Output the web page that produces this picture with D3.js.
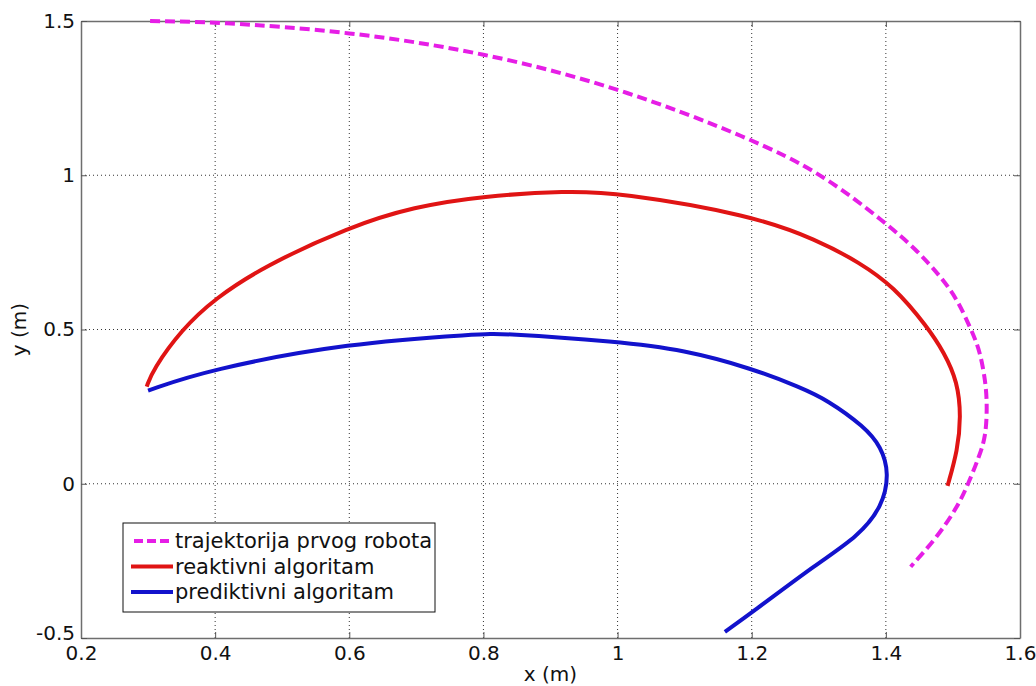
<!DOCTYPE html>
<html>
<head>
<meta charset="utf-8">
<script src="https://cdn.jsdelivr.net/npm/d3@7"></script>
<style>
  body { margin: 0; background: #fff; }
  text { font-family: "DejaVu Sans", Verdana, sans-serif; fill: #111; }
</style>
</head>
<body>
<div id="chart"></div>
<script>
// Chart size and plot box
var width = 1036, height = 686;
var box = {left: 81, top: 21, right: 1020, bottom: 638};

// Data (x, y in metres)
var robotPath = [
  [0.303, 1.500], [0.40, 1.497], [0.60, 1.466], [0.80, 1.398], [1.00, 1.286],
  [1.20, 1.118], [1.305, 1.005], [1.40, 0.845], [1.445, 0.760], [1.482, 0.671],
  [1.507, 0.596], [1.527, 0.500], [1.540, 0.434], [1.549, 0.327], [1.551, 0.250],
  [1.549, 0.153], [1.539, 0.088], [1.523, 0.000], [1.507, -0.074], [1.477, -0.172],
  [1.437, -0.269]
];
var reactivePath = [
  [0.298, 0.315], [0.307, 0.369], [0.350, 0.500], [0.40, 0.601], [0.472, 0.704],
  [0.60, 0.833], [0.696, 0.898], [0.80, 0.933], [0.925, 0.949], [1.00, 0.944],
  [1.20, 0.871], [1.298, 0.790], [1.36, 0.718], [1.412, 0.639], [1.462, 0.508],
  [1.487, 0.425], [1.507, 0.330], [1.512, 0.217], [1.507, 0.109], [1.492, -0.007]
];
var predictivePath = [
  [0.300, 0.302], [0.388, 0.369], [0.60, 0.457], [0.796, 0.485], [0.825, 0.488],
  [1.00, 0.461], [1.099, 0.434], [1.20, 0.374], [1.273, 0.312], [1.313, 0.271],
  [1.368, 0.185], [1.393, 0.120], [1.405, 0.035], [1.395, -0.074], [1.358, -0.172],
  [1.298, -0.258], [1.20, -0.418], [1.160, -0.480]
];

var seriesNames = ["trajektorija prvog robota", "reaktivni algoritam", "prediktivni algoritam"];
var seriesColors = ["#e61ee6", "#e01414", "#1212cc"];
var seriesData = [robotPath, reactivePath, predictivePath];

var xTicks = [0.2, 0.4, 0.6, 0.8, 1, 1.2, 1.4, 1.6];
var yTicks = [-0.5, 0, 0.5, 1, 1.5];

var svg = d3.select("#chart")
  .append("svg")
  .attr("width", width)
  .attr("height", height);

var x = d3.scaleLinear().domain([0.2, 1.6]).range([box.left, box.right]);
var y = d3.scaleLinear().domain([-0.5, 1.5]).range([box.bottom, box.top]);

// Grid (dotted)
svg.append("g").selectAll("line")
  .data(xTicks.slice(1, -1))
  .enter().append("line")
  .attr("x1", d => x(d)).attr("x2", d => x(d))
  .attr("y1", box.top).attr("y2", box.bottom)
  .attr("stroke", "#333").attr("stroke-width", 1)
  .attr("stroke-dasharray", "1,3");

svg.append("g").selectAll("line")
  .data(yTicks.slice(1, -1))
  .enter().append("line")
  .attr("y1", d => y(d)).attr("y2", d => y(d))
  .attr("x1", box.left).attr("x2", box.right)
  .attr("stroke", "#333").attr("stroke-width", 1)
  .attr("stroke-dasharray", "1,3");

// Axes, ticks inside on all four sides
var fmt = d => String(d);
svg.append("g")
  .attr("transform", "translate(0," + box.bottom + ")")
  .call(d3.axisBottom(x).tickValues(xTicks).tickFormat(fmt).tickSizeInner(-6).tickSizeOuter(0).tickPadding(8));
svg.append("g")
  .attr("transform", "translate(0," + box.top + ")")
  .call(d3.axisTop(x).tickValues(xTicks).tickFormat("").tickSizeInner(-6).tickSizeOuter(0));
var yAxis = svg.append("g")
  .attr("transform", "translate(" + box.left + ",0)")
  .call(d3.axisLeft(y).tickValues(yTicks).tickFormat(fmt).tickSizeInner(-6).tickSizeOuter(0).tickPadding(6));
svg.append("g")
  .attr("transform", "translate(" + box.right + ",0)")
  .call(d3.axisRight(y).tickValues(yTicks).tickFormat("").tickSizeInner(-6).tickSizeOuter(0));

// lift the bottom y label a little so it clears "0.2"
yAxis.selectAll(".tick text").filter(d => d === -0.5).attr("dy", "0.05em");

svg.selectAll(".domain").attr("stroke", "#6e6e6e").attr("stroke-width", 1.5);
svg.selectAll(".tick line").attr("stroke", "#555");
svg.selectAll(".tick text")
  .style("font-family", "'DejaVu Sans', Verdana, sans-serif")
  .style("font-size", "20px").attr("fill", "#111");

// Axis titles
svg.append("text")
  .attr("x", (box.left + box.right) / 2).attr("y", 681)
  .attr("text-anchor", "middle")
  .style("font-size", "20px")
  .text("x (m)");
svg.append("text")
  .attr("transform", "translate(26," + (box.top + box.bottom) / 2 + ") rotate(-90)")
  .attr("text-anchor", "middle")
  .style("font-size", "20px")
  .text("y (m)");

// Curves
var line = d3.line()
  .x(d => x(d[0])).y(d => y(d[1]))
  .curve(d3.curveBasis);

svg.append("g").selectAll("path")
  .data(seriesData)
  .enter().append("path")
  .attr("d", line)
  .attr("fill", "none")
  .attr("stroke", (d, i) => seriesColors[i])
  .attr("stroke-width", 4)
  .attr("stroke-dasharray", (d, i) => i === 0 ? "10,5" : null);

// Legend
var legend = svg.append("g").attr("transform", "translate(123,523)");
legend.append("rect")
  .attr("width", 312).attr("height", 89)
  .attr("fill", "#fff").attr("stroke", "#111").attr("stroke-width", 1);

var rows = legend.selectAll(".row")
  .data(seriesNames)
  .enter().append("g")
  .attr("transform", (d, i) => "translate(0," + (18 + i * 25.5) + ")");
rows.append("line")
  .attr("x1", (d, i) => i === 0 ? 11 : 8).attr("x2", 50)
  .attr("stroke", (d, i) => seriesColors[i])
  .attr("stroke-width", 4)
  .attr("stroke-dasharray", (d, i) => i === 0 ? "9,4" : null);
rows.append("text")
  .attr("x", 52).attr("y", 7)
  .style("font-size", "21px")
  .text(d => d);
</script>
</body>
</html>
